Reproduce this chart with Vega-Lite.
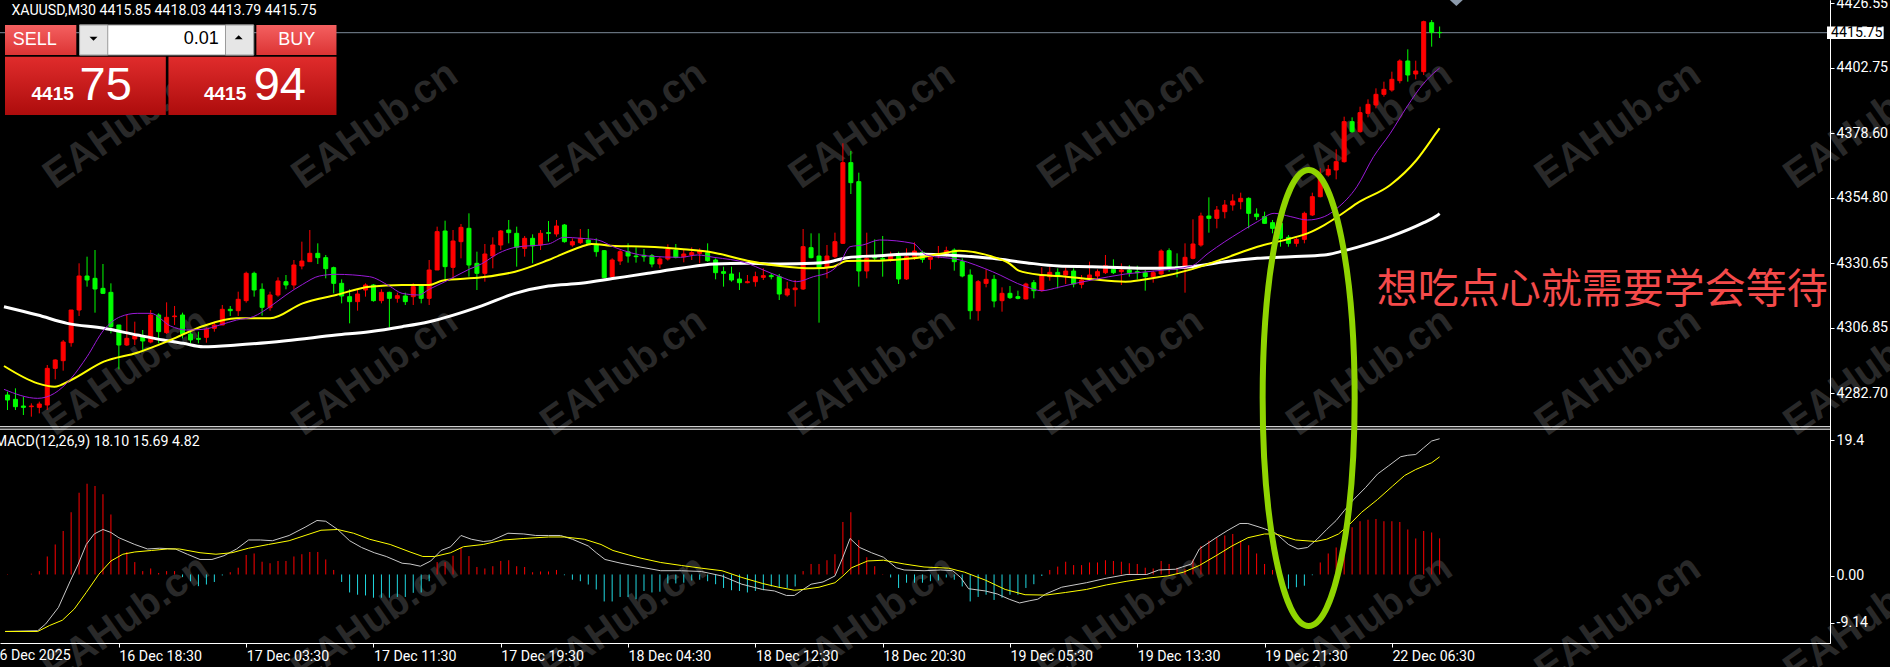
{
"$schema":"https://vega.github.io/schema/vega-lite/v6.json",
"width":1830,"height":643,
"autosize":{"type":"none"},
"padding":{"left":0,"top":0,"right":60,"bottom":24},
"background":"#000000",
"config":{"view":{"stroke":null},"axis":{"grid":false,"labelFont":"Roboto","labelFontSize":14.2,"labelColor":"#ffffff","tickColor":"#ffffff","domainColor":"#ffffff","tickSize":4,"tickWidth":1,"domainWidth":1}},
"datasets":{
"k":[
{"i":0,"o":4282.11,"h":4283.34,"l":4276.57,"c":4280.26,"m":0.05},
{"i":1,"o":4280.51,"h":4284.57,"l":4276.57,"c":4277.80,"m":0},
{"i":2,"o":4278.05,"h":4281.49,"l":4274.73,"c":4277.56,"m":0},
{"i":3,"o":4277.80,"h":4279.03,"l":4274.11,"c":4278.05,"m":0.1},
{"i":4,"o":4277.56,"h":4279.65,"l":4275.34,"c":4278.79,"m":0.45},
{"i":5,"o":4278.42,"h":4293.17,"l":4276.57,"c":4291.94,"m":2.4},
{"i":6,"o":4291.94,"h":4295.26,"l":4287.89,"c":4295.02,"m":4.0},
{"i":7,"o":4294.77,"h":4302.40,"l":4291.08,"c":4301.66,"m":5.8},
{"i":8,"o":4301.41,"h":4313.46,"l":4299.94,"c":4313.46,"m":8.3},
{"i":9,"o":4313.46,"h":4330.68,"l":4311.25,"c":4326.00,"m":10.9},
{"i":10,"o":4326.00,"h":4333.13,"l":4322.07,"c":4324.53,"m":12.1},
{"i":11,"o":4325.14,"h":4335.59,"l":4312.48,"c":4321.21,"m":11.8},
{"i":12,"o":4321.45,"h":4330.43,"l":4319.36,"c":4319.61,"m":10.7},
{"i":13,"o":4319.98,"h":4323.30,"l":4304.85,"c":4307.31,"m":8.0},
{"i":14,"o":4307.93,"h":4307.93,"l":4291.57,"c":4300.55,"m":4.7},
{"i":15,"o":4300.55,"h":4311.62,"l":4300.18,"c":4303.01,"m":3.0},
{"i":16,"o":4302.76,"h":4309.16,"l":4300.55,"c":4303.87,"m":1.65},
{"i":17,"o":4303.62,"h":4306.08,"l":4298.09,"c":4302.03,"m":0.45},
{"i":18,"o":4301.66,"h":4313.46,"l":4301.17,"c":4311.62,"m":0.8},
{"i":19,"o":4311.62,"h":4312.23,"l":4301.17,"c":4305.47,"m":0.2},
{"i":20,"o":4305.10,"h":4316.29,"l":4304.61,"c":4310.76,"m":0.45},
{"i":21,"o":4311.00,"h":4314.94,"l":4307.93,"c":4311.25,"m":0.45},
{"i":22,"o":4311.62,"h":4312.48,"l":4303.01,"c":4304.61,"m":-0.35},
{"i":23,"o":4304.61,"h":4305.72,"l":4301.17,"c":4302.40,"m":-0.9},
{"i":24,"o":4303.01,"h":4305.47,"l":4301.17,"c":4302.64,"m":-1.56},
{"i":25,"o":4303.38,"h":4307.07,"l":4301.41,"c":4306.33,"m":-1.34},
{"i":26,"o":4306.70,"h":4309.16,"l":4305.47,"c":4307.93,"m":-1.0},
{"i":27,"o":4307.93,"h":4315.31,"l":4307.93,"c":4313.71,"m":-0.13},
{"i":28,"o":4313.71,"h":4314.94,"l":4311.25,"c":4313.21,"m":0.3},
{"i":29,"o":4313.21,"h":4320.22,"l":4311.25,"c":4317.40,"m":0.9},
{"i":30,"o":4316.91,"h":4327.60,"l":4316.17,"c":4326.99,"m":2.6},
{"i":31,"o":4326.99,"h":4327.60,"l":4318.38,"c":4320.84,"m":2.8},
{"i":32,"o":4321.09,"h":4323.30,"l":4311.37,"c":4314.45,"m":1.7},
{"i":33,"o":4314.32,"h":4320.22,"l":4313.21,"c":4319.00,"m":1.5},
{"i":34,"o":4319.00,"h":4325.51,"l":4318.38,"c":4324.16,"m":1.8},
{"i":35,"o":4323.91,"h":4326.37,"l":4321.09,"c":4322.68,"m":1.8},
{"i":36,"o":4322.68,"h":4331.90,"l":4321.09,"c":4330.06,"m":2.4},
{"i":37,"o":4329.69,"h":4338.67,"l":4328.46,"c":4331.53,"m":2.7},
{"i":38,"o":4331.29,"h":4342.97,"l":4331.29,"c":4334.37,"m":3.0},
{"i":39,"o":4334.37,"h":4338.05,"l":4330.43,"c":4332.77,"m":3.0},
{"i":40,"o":4332.77,"h":4333.75,"l":4325.14,"c":4328.71,"m":2.0},
{"i":41,"o":4329.08,"h":4329.45,"l":4319.61,"c":4323.30,"m":0.6},
{"i":42,"o":4323.30,"h":4324.77,"l":4315.92,"c":4318.63,"m":-1.0},
{"i":43,"o":4318.38,"h":4321.09,"l":4308.54,"c":4316.54,"m":-2.4},
{"i":44,"o":4316.54,"h":4321.09,"l":4313.21,"c":4319.36,"m":-2.7},
{"i":45,"o":4320.84,"h":4323.30,"l":4318.38,"c":4322.68,"m":-2.8},
{"i":46,"o":4322.68,"h":4323.05,"l":4316.54,"c":4316.91,"m":-3.1},
{"i":47,"o":4316.91,"h":4321.09,"l":4315.92,"c":4319.98,"m":-3.1},
{"i":48,"o":4319.98,"h":4320.22,"l":4307.07,"c":4317.77,"m":-3.1},
{"i":49,"o":4317.77,"h":4319.86,"l":4316.17,"c":4318.75,"m":-3.0},
{"i":50,"o":4318.63,"h":4319.86,"l":4315.31,"c":4316.54,"m":-3.0},
{"i":51,"o":4318.38,"h":4323.30,"l":4315.31,"c":4322.07,"m":-2.45},
{"i":52,"o":4322.31,"h":4323.05,"l":4315.92,"c":4317.77,"m":-2.4},
{"i":53,"o":4317.77,"h":4331.90,"l":4315.31,"c":4328.22,"m":-0.9},
{"i":54,"o":4328.22,"h":4344.20,"l":4328.22,"c":4342.36,"m":1.65},
{"i":55,"o":4342.60,"h":4346.41,"l":4324.53,"c":4329.45,"m":1.65},
{"i":56,"o":4329.20,"h":4342.97,"l":4325.14,"c":4338.91,"m":2.5},
{"i":57,"o":4338.67,"h":4345.18,"l":4332.52,"c":4343.95,"m":3.6},
{"i":58,"o":4343.59,"h":4349.12,"l":4325.76,"c":4330.06,"m":2.45},
{"i":59,"o":4330.68,"h":4334.98,"l":4320.84,"c":4326.99,"m":1.0},
{"i":60,"o":4326.99,"h":4337.81,"l":4323.91,"c":4334.12,"m":0.8},
{"i":61,"o":4333.38,"h":4340.27,"l":4328.83,"c":4337.44,"m":1.1},
{"i":62,"o":4337.44,"h":4342.97,"l":4335.59,"c":4342.60,"m":1.8},
{"i":63,"o":4342.97,"h":4346.66,"l":4338.05,"c":4341.99,"m":1.9},
{"i":64,"o":4341.74,"h":4344.20,"l":4329.45,"c":4336.58,"m":1.1},
{"i":65,"o":4336.21,"h":4340.76,"l":4333.13,"c":4339.90,"m":1.0},
{"i":66,"o":4339.90,"h":4341.37,"l":4330.68,"c":4337.07,"m":0.3},
{"i":67,"o":4337.44,"h":4342.97,"l":4335.59,"c":4341.74,"m":0.4},
{"i":68,"o":4341.99,"h":4346.29,"l":4338.67,"c":4341.74,"m":0.4},
{"i":69,"o":4341.50,"h":4346.66,"l":4340.51,"c":4344.45,"m":0.6},
{"i":70,"o":4344.82,"h":4345.18,"l":4338.30,"c":4338.67,"m":-0.1},
{"i":71,"o":4337.44,"h":4339.90,"l":4336.82,"c":4338.67,"m":-0.7},
{"i":72,"o":4338.30,"h":4343.34,"l":4337.81,"c":4339.90,"m":-0.9},
{"i":73,"o":4339.28,"h":4343.34,"l":4337.81,"c":4338.05,"m":-1.34},
{"i":74,"o":4337.44,"h":4339.90,"l":4333.13,"c":4334.98,"m":-2.0},
{"i":75,"o":4335.35,"h":4335.59,"l":4325.14,"c":4325.39,"m":-3.6},
{"i":76,"o":4325.76,"h":4332.52,"l":4325.14,"c":4331.90,"m":-3.6},
{"i":77,"o":4331.53,"h":4335.84,"l":4330.06,"c":4334.98,"m":-3.0},
{"i":78,"o":4334.98,"h":4338.05,"l":4330.92,"c":4333.38,"m":-3.0},
{"i":79,"o":4333.38,"h":4336.58,"l":4330.92,"c":4333.13,"m":-3.3},
{"i":80,"o":4333.63,"h":4335.96,"l":4331.29,"c":4333.13,"m":-2.2},
{"i":81,"o":4333.50,"h":4334.12,"l":4329.20,"c":4330.43,"m":-2.4},
{"i":82,"o":4330.43,"h":4333.13,"l":4328.83,"c":4332.27,"m":-2.3},
{"i":83,"o":4332.27,"h":4337.68,"l":4331.66,"c":4335.96,"m":-1.2},
{"i":84,"o":4335.59,"h":4337.81,"l":4332.52,"c":4332.89,"m":-1.2},
{"i":85,"o":4333.13,"h":4335.59,"l":4331.04,"c":4334.12,"m":-1.1},
{"i":86,"o":4333.75,"h":4336.58,"l":4331.90,"c":4334.61,"m":-0.8},
{"i":87,"o":4334.37,"h":4336.21,"l":4330.68,"c":4335.22,"m":-0.7},
{"i":88,"o":4334.61,"h":4338.05,"l":4331.29,"c":4331.66,"m":-0.9},
{"i":89,"o":4331.90,"h":4332.52,"l":4324.77,"c":4327.23,"m":-1.3},
{"i":90,"o":4327.60,"h":4329.45,"l":4322.07,"c":4326.99,"m":-1.8},
{"i":91,"o":4326.74,"h":4329.45,"l":4323.91,"c":4324.53,"m":-2.1},
{"i":92,"o":4324.90,"h":4327.36,"l":4320.84,"c":4323.54,"m":-2.2},
{"i":93,"o":4323.54,"h":4326.37,"l":4323.30,"c":4323.91,"m":-2.4},
{"i":94,"o":4323.91,"h":4327.60,"l":4322.07,"c":4325.76,"m":-2.2},
{"i":95,"o":4325.51,"h":4328.83,"l":4324.53,"c":4326.13,"m":-2.1},
{"i":96,"o":4326.13,"h":4326.99,"l":4324.77,"c":4325.76,"m":-1.6},
{"i":97,"o":4325.76,"h":4326.74,"l":4317.15,"c":4319.36,"m":-1.8},
{"i":98,"o":4319.00,"h":4323.91,"l":4318.38,"c":4321.21,"m":-1.8},
{"i":99,"o":4320.96,"h":4324.53,"l":4314.69,"c":4321.58,"m":-1.6},
{"i":100,"o":4321.21,"h":4343.34,"l":4320.84,"c":4336.82,"m":0.45},
{"i":101,"o":4336.45,"h":4341.74,"l":4332.52,"c":4332.77,"m":1.4},
{"i":102,"o":4333.38,"h":4341.74,"l":4308.79,"c":4329.20,"m":1.4},
{"i":103,"o":4329.20,"h":4337.44,"l":4325.14,"c":4333.38,"m":1.9},
{"i":104,"o":4333.13,"h":4341.99,"l":4332.52,"c":4338.67,"m":2.7},
{"i":105,"o":4338.05,"h":4374.94,"l":4337.81,"c":4367.81,"m":7.0},
{"i":106,"o":4367.81,"h":4372.11,"l":4356.25,"c":4360.43,"m":8.3},
{"i":107,"o":4360.80,"h":4364.12,"l":4322.07,"c":4327.85,"m":4.6},
{"i":108,"o":4327.85,"h":4341.99,"l":4325.14,"c":4332.52,"m":2.3},
{"i":109,"o":4333.13,"h":4339.53,"l":4331.66,"c":4332.64,"m":1.1},
{"i":110,"o":4332.52,"h":4340.76,"l":4325.76,"c":4332.15,"m":0.05},
{"i":111,"o":4331.90,"h":4334.98,"l":4331.29,"c":4333.75,"m":-0.4},
{"i":112,"o":4333.38,"h":4334.98,"l":4323.05,"c":4324.90,"m":-1.8},
{"i":113,"o":4324.90,"h":4336.21,"l":4324.53,"c":4333.13,"m":-1.1},
{"i":114,"o":4333.13,"h":4338.42,"l":4331.90,"c":4335.22,"m":-1.1},
{"i":115,"o":4334.73,"h":4335.35,"l":4330.92,"c":4332.15,"m":-1.1},
{"i":116,"o":4332.15,"h":4334.12,"l":4328.46,"c":4332.89,"m":-0.9},
{"i":117,"o":4333.38,"h":4337.07,"l":4332.52,"c":4334.00,"m":-0.8},
{"i":118,"o":4334.12,"h":4336.82,"l":4333.13,"c":4335.35,"m":-0.4},
{"i":119,"o":4335.59,"h":4336.21,"l":4327.97,"c":4331.29,"m":-0.7},
{"i":120,"o":4331.29,"h":4332.52,"l":4325.51,"c":4326.00,"m":-1.6},
{"i":121,"o":4326.37,"h":4328.46,"l":4310.01,"c":4313.21,"m":-3.6},
{"i":122,"o":4313.21,"h":4324.52,"l":4309.52,"c":4323.91,"m":-3.0},
{"i":123,"o":4323.29,"h":4328.46,"l":4321.82,"c":4324.77,"m":-2.7},
{"i":124,"o":4324.77,"h":4326.37,"l":4314.44,"c":4316.78,"m":-3.4},
{"i":125,"o":4316.90,"h":4321.82,"l":4312.84,"c":4319.61,"m":-3.1},
{"i":126,"o":4319.61,"h":4322.31,"l":4317.52,"c":4318.01,"m":-2.7},
{"i":127,"o":4318.38,"h":4320.59,"l":4317.39,"c":4317.76,"m":-2.7},
{"i":128,"o":4317.52,"h":4323.54,"l":4317.39,"c":4323.05,"m":-1.8},
{"i":129,"o":4323.54,"h":4324.52,"l":4317.76,"c":4320.59,"m":-1.3},
{"i":130,"o":4320.59,"h":4329.20,"l":4320.22,"c":4326.37,"m":-0.2},
{"i":131,"o":4325.75,"h":4329.44,"l":4324.28,"c":4327.35,"m":0.6},
{"i":132,"o":4327.35,"h":4328.83,"l":4321.45,"c":4325.75,"m":1.05},
{"i":133,"o":4326.37,"h":4329.20,"l":4323.05,"c":4327.84,"m":1.7},
{"i":134,"o":4327.84,"h":4328.83,"l":4321.82,"c":4323.05,"m":1.25},
{"i":135,"o":4322.92,"h":4326.37,"l":4321.45,"c":4324.52,"m":1.25},
{"i":136,"o":4324.77,"h":4331.29,"l":4324.28,"c":4326.37,"m":1.6},
{"i":137,"o":4326.00,"h":4328.46,"l":4324.77,"c":4327.60,"m":1.6},
{"i":138,"o":4327.23,"h":4333.75,"l":4326.74,"c":4329.81,"m":1.9},
{"i":139,"o":4328.46,"h":4332.15,"l":4326.74,"c":4327.23,"m":1.8},
{"i":140,"o":4327.60,"h":4330.67,"l":4322.68,"c":4328.21,"m":1.7},
{"i":141,"o":4328.21,"h":4330.06,"l":4325.75,"c":4327.23,"m":1.5},
{"i":142,"o":4327.60,"h":4329.81,"l":4324.77,"c":4327.23,"m":1.4},
{"i":143,"o":4327.23,"h":4328.21,"l":4320.59,"c":4325.75,"m":0.9},
{"i":144,"o":4325.75,"h":4327.97,"l":4323.54,"c":4327.23,"m":0.8},
{"i":145,"o":4326.74,"h":4335.84,"l":4326.37,"c":4335.22,"m":1.8},
{"i":146,"o":4335.34,"h":4336.21,"l":4327.60,"c":4329.20,"m":1.4},
{"i":147,"o":4329.44,"h":4334.36,"l":4325.51,"c":4328.83,"m":0.9},
{"i":148,"o":4328.83,"h":4338.05,"l":4319.85,"c":4332.89,"m":0.7},
{"i":149,"o":4332.52,"h":4346.90,"l":4332.15,"c":4337.81,"m":2.0},
{"i":150,"o":4337.43,"h":4349.36,"l":4336.82,"c":4348.13,"m":3.8},
{"i":151,"o":4348.13,"h":4355.02,"l":4341.99,"c":4347.27,"m":4.5},
{"i":152,"o":4347.27,"h":4351.82,"l":4343.58,"c":4350.35,"m":4.9},
{"i":153,"o":4349.73,"h":4354.03,"l":4347.27,"c":4352.19,"m":5.2},
{"i":154,"o":4352.19,"h":4356.13,"l":4350.10,"c":4353.67,"m":5.4},
{"i":155,"o":4353.42,"h":4356.74,"l":4350.59,"c":4354.65,"m":4.5},
{"i":156,"o":4354.65,"h":4355.02,"l":4343.58,"c":4349.12,"m":3.9},
{"i":157,"o":4348.87,"h":4350.96,"l":4346.66,"c":4347.89,"m":2.8},
{"i":158,"o":4347.89,"h":4349.73,"l":4345.18,"c":4345.43,"m":1.4},
{"i":159,"o":4345.68,"h":4346.66,"l":4341.74,"c":4343.58,"m":0.6},
{"i":160,"o":4345.43,"h":4346.41,"l":4336.82,"c":4339.89,"m":-0.9},
{"i":161,"o":4340.26,"h":4341.12,"l":4336.82,"c":4338.05,"m":-1.9},
{"i":162,"o":4338.05,"h":4340.26,"l":4336.82,"c":4339.52,"m":-1.7},
{"i":163,"o":4339.52,"h":4349.73,"l":4338.05,"c":4349.12,"m":-1.5},
{"i":164,"o":4348.50,"h":4356.74,"l":4348.13,"c":4355.26,"m":-0.1},
{"i":165,"o":4355.26,"h":4365.72,"l":4355.02,"c":4362.03,"m":1.6},
{"i":166,"o":4363.26,"h":4366.95,"l":4362.64,"c":4365.35,"m":2.8},
{"i":167,"o":4365.10,"h":4372.72,"l":4361.66,"c":4368.17,"m":3.6},
{"i":168,"o":4368.17,"h":4384.77,"l":4367.81,"c":4382.93,"m":5.4},
{"i":169,"o":4382.93,"h":4384.53,"l":4378.87,"c":4379.24,"m":6.3},
{"i":170,"o":4379.24,"h":4388.46,"l":4378.87,"c":4386.25,"m":7.1},
{"i":171,"o":4386.00,"h":4391.17,"l":4384.53,"c":4389.32,"m":7.3},
{"i":172,"o":4389.08,"h":4395.22,"l":4387.85,"c":4393.01,"m":7.4},
{"i":173,"o":4393.01,"h":4397.68,"l":4392.15,"c":4394.86,"m":7.1},
{"i":174,"o":4394.61,"h":4401.37,"l":4393.99,"c":4398.55,"m":7.1},
{"i":175,"o":4398.05,"h":4405.92,"l":4397.07,"c":4405.31,"m":7.0},
{"i":176,"o":4405.31,"h":4409.61,"l":4397.68,"c":4400.14,"m":6.0},
{"i":177,"o":4400.51,"h":4405.43,"l":4398.55,"c":4401.62,"m":4.8},
{"i":178,"o":4401.37,"h":4420.19,"l":4400.14,"c":4419.82,"m":5.8},
{"i":179,"o":4419.45,"h":4420.43,"l":4410.60,"c":4415.88,"m":5.6},
{"i":180,"o":4415.85,"h":4418.03,"l":4413.79,"c":4415.75,"m":4.82}
],
"ma":[
{"s":"w","i":-0.44,"v":4314.69},{"s":"w","i":3.8,"v":4311.62},{"s":"w","i":7.5,"v":4308.54},{"s":"w","i":12.1,"v":4306.7},{"s":"w","i":16.3,"v":4304.24},{"s":"w","i":19.6,"v":4302.4},{"s":"w","i":22.1,"v":4301.17},{"s":"w","i":24.6,"v":4299.94},{"s":"w","i":28.8,"v":4300.55},{"s":"w","i":35,"v":4302.15},{"s":"w","i":41.3,"v":4304.24},{"s":"w","i":45.5,"v":4305.47},{"s":"w","i":49.6,"v":4307.31},{"s":"w","i":53,"v":4309.16},{"s":"w","i":59.6,"v":4315.0},{"s":"w","i":63.8,"v":4319.61},{"s":"w","i":68,"v":4322.31},{"s":"w","i":72.1,"v":4323.3},{"s":"w","i":76.3,"v":4325.14},{"s":"w","i":80.5,"v":4326.99},{"s":"w","i":84.6,"v":4328.83},{"s":"w","i":88.8,"v":4330.43},{"s":"w","i":93,"v":4330.68},{"s":"w","i":97.1,"v":4330.43},{"s":"w","i":101.3,"v":4330.68},{"s":"w","i":103.4,"v":4331.29},{"s":"w","i":105.5,"v":4332.77},{"s":"w","i":109.6,"v":4333.5},{"s":"w","i":113.8,"v":4334.12},{"s":"w","i":119.6,"v":4333.5},{"s":"w","i":123.8,"v":4332.52},{"s":"w","i":128,"v":4330.92},{"s":"w","i":132.1,"v":4329.69},{"s":"w","i":136.3,"v":4329.44},{"s":"w","i":140.5,"v":4329.07},{"s":"w","i":144.6,"v":4328.83},{"s":"w","i":148.8,"v":4329.44},{"s":"w","i":153,"v":4331.29},{"s":"w","i":157.1,"v":4332.52},{"s":"w","i":161.3,"v":4333.13},{"s":"w","i":165.5,"v":4333.75},{"s":"w","i":167.5,"v":4334.98},{"s":"w","i":169.6,"v":4336.58},{"s":"w","i":173.8,"v":4340.51},{"s":"w","i":178,"v":4345.67},{"s":"w","i":179.6,"v":4348.13},{"s":"w","i":180,"v":4349.0},
{"s":"y","i":-0.44,"v":4292.8},{"s":"y","i":3.8,"v":4286.41},{"s":"y","i":5.9,"v":4285.18},{"s":"y","i":8,"v":4287.64},{"s":"y","i":12.1,"v":4294.4},{"s":"y","i":16.3,"v":4297.72},{"s":"y","i":20.5,"v":4302.4},{"s":"y","i":24.6,"v":4307.56},{"s":"y","i":28.8,"v":4310.39},{"s":"y","i":33,"v":4310.39},{"s":"y","i":37.1,"v":4315.92},{"s":"y","i":41.3,"v":4319.0},{"s":"y","i":45.5,"v":4322.07},{"s":"y","i":49.6,"v":4322.68},{"s":"y","i":53,"v":4322.68},{"s":"y","i":54.6,"v":4324.28},{"s":"y","i":59.6,"v":4325.5},{"s":"y","i":63.8,"v":4327.6},{"s":"y","i":68,"v":4331.9},{"s":"y","i":72.1,"v":4336.82},{"s":"y","i":73.4,"v":4337.81},{"s":"y","i":76.3,"v":4337.07},{"s":"y","i":80.5,"v":4336.82},{"s":"y","i":84.6,"v":4335.96},{"s":"y","i":88.8,"v":4334.61},{"s":"y","i":93,"v":4331.66},{"s":"y","i":97.1,"v":4329.69},{"s":"y","i":101.3,"v":4328.83},{"s":"y","i":103.8,"v":4329.45},{"s":"y","i":105.5,"v":4331.53},{"s":"y","i":109.6,"v":4331.66},{"s":"y","i":113.8,"v":4332.52},{"s":"y","i":118,"v":4334.61},{"s":"y","i":119.6,"v":4335.35},{"s":"y","i":123.8,"v":4333.13},{"s":"y","i":125.9,"v":4330.67},{"s":"y","i":127.1,"v":4327.97},{"s":"y","i":130,"v":4326.37},{"s":"y","i":132.1,"v":4326.0},{"s":"y","i":136.3,"v":4324.77},{"s":"y","i":140.5,"v":4323.91},{"s":"y","i":142.5,"v":4324.52},{"s":"y","i":144.6,"v":4325.51},{"s":"y","i":148.8,"v":4328.46},{"s":"y","i":153,"v":4332.52},{"s":"y","i":157.1,"v":4336.82},{"s":"y","i":161.3,"v":4339.89},{"s":"y","i":163.4,"v":4341.74},{"s":"y","i":165.5,"v":4344.81},{"s":"y","i":167.5,"v":4348.5},{"s":"y","i":169.6,"v":4352.81},{"s":"y","i":173.8,"v":4359.57},{"s":"y","i":177.1,"v":4368.79},{"s":"y","i":179.6,"v":4378.87},{"s":"y","i":180,"v":4380.5},
{"s":"p","i":-0.44,"v":4284.2},{"s":"p","i":3.8,"v":4280.88},{"s":"p","i":5.9,"v":4282.72},{"s":"p","i":8,"v":4288.25},{"s":"p","i":10,"v":4296.25},{"s":"p","i":12.1,"v":4306.08},{"s":"p","i":14.2,"v":4311.0},{"s":"p","i":16.3,"v":4312.23},{"s":"p","i":18,"v":4312.23},{"s":"p","i":20.5,"v":4307.56},{"s":"p","i":22.5,"v":4306.08},{"s":"p","i":24.6,"v":4306.33},{"s":"p","i":26.7,"v":4307.93},{"s":"p","i":28.8,"v":4309.77},{"s":"p","i":30.9,"v":4311.0},{"s":"p","i":33,"v":4314.69},{"s":"p","i":35,"v":4319.0},{"s":"p","i":37.1,"v":4322.93},{"s":"p","i":39.2,"v":4326.0},{"s":"p","i":41.3,"v":4326.62},{"s":"p","i":45.5,"v":4325.76},{"s":"p","i":48,"v":4322.31},{"s":"p","i":49.6,"v":4319.61},{"s":"p","i":51.7,"v":4319.0},{"s":"p","i":53,"v":4321.09},{"s":"p","i":55,"v":4323.91},{"s":"p","i":58,"v":4328.46},{"s":"p","i":59.6,"v":4330.5},{"s":"p","i":61.7,"v":4334.37},{"s":"p","i":63.8,"v":4336.58},{"s":"p","i":68,"v":4337.81},{"s":"p","i":70,"v":4340.27},{"s":"p","i":72.1,"v":4339.9},{"s":"p","i":74.2,"v":4339.28},{"s":"p","i":76.3,"v":4336.58},{"s":"p","i":80.5,"v":4333.38},{"s":"p","i":84.6,"v":4332.89},{"s":"p","i":86.7,"v":4333.75},{"s":"p","i":88.8,"v":4332.89},{"s":"p","i":93,"v":4330.68},{"s":"p","i":95,"v":4328.22},{"s":"p","i":97.1,"v":4325.76},{"s":"p","i":99.2,"v":4323.91},{"s":"p","i":101.3,"v":4325.76},{"s":"p","i":103.4,"v":4327.6},{"s":"p","i":104.6,"v":4330.68},{"s":"p","i":105.9,"v":4336.82},{"s":"p","i":107.5,"v":4337.44},{"s":"p","i":109.6,"v":4339.28},{"s":"p","i":113.8,"v":4338.05},{"s":"p","i":115.5,"v":4333.75},{"s":"p","i":119.6,"v":4332.0},{"s":"p","i":123.8,"v":4327.6},{"s":"p","i":128,"v":4322.06},{"s":"p","i":130,"v":4320.59},{"s":"p","i":132.1,"v":4321.82},{"s":"p","i":134.2,"v":4323.29},{"s":"p","i":136.3,"v":4324.52},{"s":"p","i":140.5,"v":4326.74},{"s":"p","i":144.6,"v":4327.97},{"s":"p","i":148.8,"v":4329.69},{"s":"p","i":150.9,"v":4334.36},{"s":"p","i":153,"v":4338.66},{"s":"p","i":155,"v":4342.35},{"s":"p","i":157.1,"v":4346.04},{"s":"p","i":159.2,"v":4349.12},{"s":"p","i":161.3,"v":4347.89},{"s":"p","i":163.4,"v":4346.66},{"s":"p","i":165.5,"v":4347.89},{"s":"p","i":167.1,"v":4350.96},{"s":"p","i":169.6,"v":4358.95},{"s":"p","i":171.7,"v":4370.02},{"s":"p","i":173.8,"v":4378.63},{"s":"p","i":175.9,"v":4388.46},{"s":"p","i":178,"v":4397.07},{"s":"p","i":179.6,"v":4401.74},{"s":"p","i":180,"v":4402.7}
],
"md":[
{"s":"m","i":-0.3,"v":-7.6},{"s":"m","i":3.8,"v":-7.5},{"s":"m","i":4.8,"v":-6.6},{"s":"m","i":6.4,"v":-4.4},{"s":"m","i":7.9,"v":-0.85},{"s":"m","i":8.9,"v":1.4},{"s":"m","i":9.9,"v":4.0},{"s":"m","i":10.9,"v":5.4},{"s":"m","i":12,"v":6.0},{"s":"m","i":13,"v":5.6},{"s":"m","i":14,"v":4.9},{"s":"m","i":16,"v":4.0},{"s":"m","i":17.6,"v":3.4},{"s":"m","i":19.1,"v":3.5},{"s":"m","i":21.1,"v":3.4},{"s":"m","i":22.6,"v":2.7},{"s":"m","i":24.2,"v":2.0},{"s":"m","i":25.7,"v":2.0},{"s":"m","i":27.2,"v":2.5},{"s":"m","i":28.8,"v":3.4},{"s":"m","i":30.3,"v":4.6},{"s":"m","i":31.8,"v":4.6},{"s":"m","i":33.3,"v":4.5},{"s":"m","i":35.4,"v":5.2},{"s":"m","i":37.4,"v":6.3},{"s":"m","i":38.9,"v":7.2},{"s":"m","i":40,"v":7.1},{"s":"m","i":41.5,"v":6.0},{"s":"m","i":43,"v":4.5},{"s":"m","i":44.5,"v":3.6},{"s":"m","i":46.1,"v":2.9},{"s":"m","i":47.6,"v":2.4},{"s":"m","i":49.6,"v":1.5},{"s":"m","i":50.6,"v":1.4},{"s":"m","i":51.9,"v":1.1},{"s":"m","i":53.2,"v":1.8},{"s":"m","i":54.5,"v":3.2},{"s":"m","i":55.7,"v":3.7},{"s":"m","i":57,"v":5.2},{"s":"m","i":58.3,"v":4.7},{"s":"m","i":59.8,"v":4.4},{"s":"m","i":60.8,"v":4.5},{"s":"m","i":62.9,"v":5.5},{"s":"m","i":64.9,"v":5.4},{"s":"m","i":66.4,"v":5.2},{"s":"m","i":68,"v":5.2},{"s":"m","i":69.5,"v":5.2},{"s":"m","i":71,"v":4.7},{"s":"m","i":73,"v":3.8},{"s":"m","i":74,"v":2.9},{"s":"m","i":75.1,"v":2.0},{"s":"m","i":77.1,"v":1.5},{"s":"m","i":79.5,"v":1.0},{"s":"m","i":82.1,"v":0.5},{"s":"m","i":84.7,"v":0.5},{"s":"m","i":87.2,"v":0.4},{"s":"m","i":89.8,"v":-0.2},{"s":"m","i":92.3,"v":-1.3},{"s":"m","i":94.9,"v":-2.0},{"s":"m","i":96.4,"v":-2.2},{"s":"m","i":97.9,"v":-2.8},{"s":"m","i":98.9,"v":-2.8},{"s":"m","i":100,"v":-2.0},{"s":"m","i":101,"v":-1.3},{"s":"m","i":102.5,"v":-1.0},{"s":"m","i":104,"v":-0.2},{"s":"m","i":105,"v":2.3},{"s":"m","i":105.9,"v":4.8},{"s":"m","i":107.1,"v":3.6},{"s":"m","i":108.6,"v":2.9},{"s":"m","i":110.1,"v":2.3},{"s":"m","i":111.7,"v":0.9},{"s":"m","i":112.7,"v":0.6},{"s":"m","i":115.2,"v":0.5},{"s":"m","i":117.3,"v":0.6},{"s":"m","i":118.8,"v":0.5},{"s":"m","i":119.8,"v":-0.4},{"s":"m","i":120.8,"v":-1.9},{"s":"m","i":122.9,"v":-2.2},{"s":"m","i":124.4,"v":-2.6},{"s":"m","i":125.9,"v":-3.3},{"s":"m","i":127.2,"v":-3.8},{"s":"m","i":128.5,"v":-3.5},{"s":"m","i":129.5,"v":-3.3},{"s":"m","i":130.5,"v":-2.6},{"s":"m","i":132.5,"v":-1.7},{"s":"m","i":135.6,"v":-1.1},{"s":"m","i":138.1,"v":-0.5},{"s":"m","i":140.7,"v":0},{"s":"m","i":143.2,"v":0},{"s":"m","i":144.7,"v":0.6},{"s":"m","i":146.8,"v":0.7},{"s":"m","i":148.8,"v":1.4},{"s":"m","i":149.8,"v":3.4},{"s":"m","i":151.9,"v":4.9},{"s":"m","i":153.4,"v":5.9},{"s":"m","i":154.9,"v":6.8},{"s":"m","i":155.9,"v":6.8},{"s":"m","i":158,"v":6.1},{"s":"m","i":159.4,"v":5.5},{"s":"m","i":161,"v":4.0},{"s":"m","i":162.2,"v":3.4},{"s":"m","i":163.4,"v":3.6},{"s":"m","i":164.6,"v":4.7},{"s":"m","i":165.8,"v":6.0},{"s":"m","i":167,"v":7.2},{"s":"m","i":168,"v":8.5},{"s":"m","i":169.2,"v":10.0},{"s":"m","i":170.7,"v":11.6},{"s":"m","i":172.2,"v":13.4},{"s":"m","i":173.6,"v":14.5},{"s":"m","i":175.1,"v":15.7},{"s":"m","i":176,"v":15.9},{"s":"m","i":177,"v":16.0},{"s":"m","i":178,"v":16.9},{"s":"m","i":179,"v":17.8},{"s":"m","i":180,"v":18.1},
{"s":"g","i":-0.3,"v":-7.6},{"s":"g","i":3.8,"v":-7.6},{"s":"g","i":5.3,"v":-6.8},{"s":"g","i":6.9,"v":-6.1},{"s":"g","i":8.4,"v":-4.6},{"s":"g","i":9.9,"v":-2.4},{"s":"g","i":11.5,"v":0.05},{"s":"g","i":13,"v":1.8},{"s":"g","i":14.5,"v":2.7},{"s":"g","i":16,"v":3.0},{"s":"g","i":18.1,"v":3.2},{"s":"g","i":20.1,"v":3.4},{"s":"g","i":21.6,"v":3.4},{"s":"g","i":24.2,"v":2.9},{"s":"g","i":26.2,"v":2.7},{"s":"g","i":28.2,"v":2.9},{"s":"g","i":30.3,"v":3.5},{"s":"g","i":32.8,"v":4.0},{"s":"g","i":35.4,"v":4.5},{"s":"g","i":37.4,"v":5.2},{"s":"g","i":39.4,"v":5.9},{"s":"g","i":41.5,"v":6.0},{"s":"g","i":43.5,"v":5.5},{"s":"g","i":45.5,"v":4.7},{"s":"g","i":48.1,"v":4.0},{"s":"g","i":50.6,"v":3.0},{"s":"g","i":52.2,"v":2.4},{"s":"g","i":53.7,"v":2.4},{"s":"g","i":55.7,"v":2.9},{"s":"g","i":57.3,"v":3.7},{"s":"g","i":59.8,"v":4.0},{"s":"g","i":62.3,"v":4.6},{"s":"g","i":64.9,"v":4.8},{"s":"g","i":68,"v":5.0},{"s":"g","i":70,"v":5.0},{"s":"g","i":72.5,"v":4.7},{"s":"g","i":74.6,"v":4.0},{"s":"g","i":76.1,"v":3.2},{"s":"g","i":78.1,"v":2.6},{"s":"g","i":79.5,"v":2.2},{"s":"g","i":82.1,"v":1.6},{"s":"g","i":84.7,"v":1.2},{"s":"g","i":87.2,"v":0.84},{"s":"g","i":89.8,"v":0.5},{"s":"g","i":92.3,"v":-0.4},{"s":"g","i":94.9,"v":-1.2},{"s":"g","i":96.9,"v":-1.7},{"s":"g","i":98.9,"v":-2.1},{"s":"g","i":100,"v":-2.0},{"s":"g","i":102,"v":-1.7},{"s":"g","i":104,"v":-1.1},{"s":"g","i":105,"v":-0.2},{"s":"g","i":106.1,"v":0.9},{"s":"g","i":108.1,"v":1.8},{"s":"g","i":110.1,"v":1.9},{"s":"g","i":112.7,"v":1.4},{"s":"g","i":115.2,"v":1.0},{"s":"g","i":118.3,"v":0.84},{"s":"g","i":120.3,"v":0.3},{"s":"g","i":122.9,"v":-0.75},{"s":"g","i":125.4,"v":-2.0},{"s":"g","i":127.9,"v":-2.7},{"s":"g","i":130.5,"v":-2.75},{"s":"g","i":133,"v":-2.4},{"s":"g","i":135.6,"v":-2.0},{"s":"g","i":138.1,"v":-1.4},{"s":"g","i":140.7,"v":-0.9},{"s":"g","i":143.2,"v":-0.5},{"s":"g","i":145.8,"v":-0.2},{"s":"g","i":147.8,"v":0.3},{"s":"g","i":149.8,"v":1.2},{"s":"g","i":151.9,"v":2.5},{"s":"g","i":153.9,"v":3.8},{"s":"g","i":155.9,"v":4.9},{"s":"g","i":158,"v":5.4},{"s":"g","i":159.4,"v":5.4},{"s":"g","i":161.9,"v":4.6},{"s":"g","i":164.4,"v":4.4},{"s":"g","i":165.8,"v":4.7},{"s":"g","i":167.3,"v":5.4},{"s":"g","i":168.7,"v":6.7},{"s":"g","i":170.2,"v":8.3},{"s":"g","i":172.2,"v":10.0},{"s":"g","i":174.1,"v":11.8},{"s":"g","i":175.6,"v":13.2},{"s":"g","i":177,"v":14.0},{"s":"g","i":179,"v":14.9},{"s":"g","i":180,"v":15.69}
],
"wm":[
{"i":14.94,"p":4381.7},{"i":46.19,"p":4381.7},{"i":77.44,"p":4381.7},{"i":108.69,"p":4381.7},{"i":139.94,"p":4381.7},{"i":171.19,"p":4381.7},{"i":202.44,"p":4381.7},{"i":233.69,"p":4381.7},
{"i":14.94,"p":4290.59},{"i":46.19,"p":4290.59},{"i":77.44,"p":4290.59},{"i":108.69,"p":4290.59},{"i":139.94,"p":4290.59},{"i":171.19,"p":4290.59},{"i":202.44,"p":4290.59},{"i":233.69,"p":4290.59},
{"i":14.94,"p":4199.48},{"i":46.19,"p":4199.48},{"i":77.44,"p":4199.48},{"i":108.69,"p":4199.48},{"i":139.94,"p":4199.48},{"i":171.19,"p":4199.48},{"i":202.44,"p":4199.48},{"i":233.69,"p":4199.48}
]
},
"layer":[
{"layer":[
{"data":{"name":"wm"},"mark":{"type":"text","font":"Liberation Sans","fontWeight":"bold","fontSize":40,"angle":325,"align":"center","baseline":"middle","color":"#292929"},
 "encoding":{"x":{"field":"i","type":"quantitative","scale":{"domain":[-0.3125,228.4375],"nice":false,"zero":false}},"y":{"field":"p","type":"quantitative","scale":{"domain":[4190.63,4427.81],"nice":false,"zero":false}},"text":{"value":"EAHub.cn"}}},
{"data":{"values":[{}]},"mark":{"type":"rule","color":"#7d8a99","strokeWidth":1},
 "encoding":{"y":{"datum":4415.75,"type":"quantitative","scale":{"domain":[4190.63,4427.81],"nice":false,"zero":false}}}},
{"data":{"values":[{}]},"mark":{"type":"rule","color":"#ffffff","strokeWidth":1},
 "encoding":{"y":{"datum":4270.42,"type":"quantitative","scale":{"domain":[4190.63,4427.81],"nice":false,"zero":false}}}},
{"data":{"values":[{}]},"mark":{"type":"rule","color":"#ffffff","strokeWidth":1},
 "encoding":{"y":{"datum":4269.5,"type":"quantitative","scale":{"domain":[4190.63,4427.81],"nice":false,"zero":false}}}},
{"data":{"name":"k"},"mark":{"type":"rule","strokeWidth":1},
 "encoding":{
  "x":{"field":"i","type":"quantitative","scale":{"domain":[-0.3125,228.4375],"nice":false,"zero":false},
   "axis":{"orient":"bottom","title":null,"values":[14,30,46,62,78,94,110,126,142,158,174],"labelExpr":"['16 Dec 18:30','17 Dec 03:30','17 Dec 11:30','17 Dec 19:30','18 Dec 04:30','18 Dec 12:30','18 Dec 20:30','19 Dec 05:30','19 Dec 13:30','19 Dec 21:30','22 Dec 06:30'][round((datum.value - 14) / 16)]","labelAlign":"left","labelBaseline":"top","labelPadding":2,"labelFlush":false,"labelOverlap":false,"labelBound":false,"zindex":1}},
  "y":{"field":"l","type":"quantitative","scale":{"domain":[4190.63,4427.81],"nice":false,"zero":false},
   "axis":{"orient":"right","title":null,"values":[4426.55,4402.75,4378.6,4354.8,4330.65,4306.85,4282.7],"format":".2f","labelPadding":2,"labelFlush":false,"labelOverlap":false,"labelBound":false,"zindex":1}},
  "y2":{"field":"h"},
  "color":{"condition":{"test":"datum.c > datum.o","value":"#ff0000"},"value":"#00ff00"}}},
{"data":{"name":"k"},"mark":{"type":"bar","size":4,"strokeWidth":1},
 "encoding":{
  "x":{"field":"i","type":"quantitative","scale":{"domain":[-0.3125,228.4375],"nice":false,"zero":false}},
  "y":{"field":"o","type":"quantitative","scale":{"domain":[4190.63,4427.81],"nice":false,"zero":false}},
  "y2":{"field":"c"},
  "color":{"condition":{"test":"datum.c > datum.o","value":"#ff0000"},"value":"#00ff00"},
  "stroke":{"condition":{"test":"datum.c > datum.o","value":"#ff0000"},"value":"#00ff00"}}},
{"data":{"name":"ma"},"transform":[{"filter":"datum.s == 'w'"}],"mark":{"type":"line","color":"#ffffff","strokeWidth":3,"interpolate":"monotone"},
 "encoding":{"x":{"field":"i","type":"quantitative","scale":{"domain":[-0.3125,228.4375],"nice":false,"zero":false}},"y":{"field":"v","type":"quantitative","scale":{"domain":[4190.63,4427.81],"nice":false,"zero":false}}}},
{"data":{"name":"ma"},"transform":[{"filter":"datum.s == 'y'"}],"mark":{"type":"line","color":"#ffff00","strokeWidth":2,"interpolate":"monotone"},
 "encoding":{"x":{"field":"i","type":"quantitative","scale":{"domain":[-0.3125,228.4375],"nice":false,"zero":false}},"y":{"field":"v","type":"quantitative","scale":{"domain":[4190.63,4427.81],"nice":false,"zero":false}}}},
{"data":{"name":"ma"},"transform":[{"filter":"datum.s == 'p'"}],"mark":{"type":"line","color":"#9a1ad8","strokeWidth":1,"interpolate":"monotone"},
 "encoding":{"x":{"field":"i","type":"quantitative","scale":{"domain":[-0.3125,228.4375],"nice":false,"zero":false}},"y":{"field":"v","type":"quantitative","scale":{"domain":[4190.63,4427.81],"nice":false,"zero":false}}}}
]},
{"layer":[
{"data":{"name":"k"},"mark":{"type":"rule","strokeWidth":1},
 "encoding":{
  "x":{"field":"i","type":"quantitative","scale":{"domain":[-0.3125,228.4375],"nice":false,"zero":false}},
  "y":{"field":"m","type":"quantitative","scale":{"domain":[-9.14,76.62],"nice":false,"zero":false},
   "axis":{"orient":"right","title":null,"values":[17.93,-0.2,-6.47],"labelExpr":"datum.value > 10 ? '19.4' : datum.value < -3 ? '-9.14' : '0.00'","labelPadding":2,"labelFlush":false,"labelOverlap":false,"labelBound":false,"zindex":1}},
  "y2":{"datum":0},
  "color":{"condition":{"test":"datum.m > 0","value":"#ff0000"},"value":"#20d8e0"}}},
{"data":{"name":"md"},"transform":[{"filter":"datum.s == 'm'"}],"mark":{"type":"line","color":"#c8c8c8","strokeWidth":1},
 "encoding":{"x":{"field":"i","type":"quantitative","scale":{"domain":[-0.3125,228.4375],"nice":false,"zero":false}},"y":{"field":"v","type":"quantitative","scale":{"domain":[-9.14,76.62],"nice":false,"zero":false}}}},
{"data":{"name":"md"},"transform":[{"filter":"datum.s == 'g'"}],"mark":{"type":"line","color":"#ffff00","strokeWidth":1},
 "encoding":{"x":{"field":"i","type":"quantitative","scale":{"domain":[-0.3125,228.4375],"nice":false,"zero":false}},"y":{"field":"v","type":"quantitative","scale":{"domain":[-9.14,76.62],"nice":false,"zero":false}}}},
{"data":{"values":[{}]},"mark":{"type":"text","text":"MACD(12,26,9) 18.10 15.69 4.82","font":"Roboto","fontSize":14.2,"align":"left","baseline":"middle","color":"#ffffff"},
 "encoding":{"x":{"datum":-1.6125,"type":"quantitative","scale":{"domain":[-0.3125,228.4375],"nice":false,"zero":false}},"y":{"datum":17.71,"type":"quantitative","scale":{"domain":[-9.14,76.62],"nice":false,"zero":false}}}},
{"data":{"values":[{}]},"mark":{"type":"text","text":"16 Dec 2025","font":"Roboto","fontSize":14.2,"align":"left","baseline":"top","color":"#ffffff"},
 "encoding":{"x":{"datum":-2,"type":"quantitative","scale":{"domain":[-0.3125,228.4375],"nice":false,"zero":false}},"y":{"datum":-9.94,"type":"quantitative","scale":{"domain":[-9.14,76.62],"nice":false,"zero":false}}}}
]},
{"layer":[
{"data":{"values":[{}]},"mark":{"type":"rect","fill":{"gradient":"linear","x1":0,"y1":0,"x2":0,"y2":1,"stops":[{"offset":0,"color":"#f46060"},{"offset":1,"color":"#dc3434"}]}},
 "encoding":{"x":{"datum":-0.3125,"type":"quantitative","scale":{"domain":[-0.3125,228.4375],"nice":false,"zero":false}},"x2":{"datum":8.65},"y":{"datum":4418.59,"type":"quantitative","scale":{"domain":[4190.63,4427.81],"nice":false,"zero":false},"axis":null},"y2":{"datum":4407.52}}},
{"data":{"values":[{}]},"mark":{"type":"rect","fill":{"gradient":"linear","x1":0,"y1":0,"x2":0,"y2":1,"stops":[{"offset":0,"color":"#f46060"},{"offset":1,"color":"#dc3434"}]}},
 "encoding":{"x":{"datum":31.28,"type":"quantitative","scale":{"domain":[-0.3125,228.4375],"nice":false,"zero":false}},"x2":{"datum":41.35},"y":{"datum":4418.59,"type":"quantitative","scale":{"domain":[4190.63,4427.81],"nice":false,"zero":false},"axis":null},"y2":{"datum":4407.52}}},
{"data":{"values":[{}]},"mark":{"type":"rect","fill":"#ffffff","stroke":"#9a9a9a","strokeWidth":1},
 "encoding":{"x":{"datum":9.06,"type":"quantitative","scale":{"domain":[-0.3125,228.4375],"nice":false,"zero":false}},"x2":{"datum":30.94},"y":{"datum":4418.59,"type":"quantitative","scale":{"domain":[4190.63,4427.81],"nice":false,"zero":false},"axis":null},"y2":{"datum":4407.52}}},
{"data":{"values":[{}]},"mark":{"type":"rect","fill":"#e6e6e6","stroke":"#9a9a9a","strokeWidth":1},
 "encoding":{"x":{"datum":9.06,"type":"quantitative","scale":{"domain":[-0.3125,228.4375],"nice":false,"zero":false}},"x2":{"datum":12.6},"y":{"datum":4418.59,"type":"quantitative","scale":{"domain":[4190.63,4427.81],"nice":false,"zero":false},"axis":null},"y2":{"datum":4407.52}}},
{"data":{"values":[{}]},"mark":{"type":"rect","fill":"#e6e6e6","stroke":"#9a9a9a","strokeWidth":1},
 "encoding":{"x":{"datum":27.4,"type":"quantitative","scale":{"domain":[-0.3125,228.4375],"nice":false,"zero":false}},"x2":{"datum":30.94},"y":{"datum":4418.59,"type":"quantitative","scale":{"domain":[4190.63,4427.81],"nice":false,"zero":false},"axis":null},"y2":{"datum":4407.52}}},
{"data":{"values":[{}]},"mark":{"type":"rect","fill":{"gradient":"linear","x1":0,"y1":0,"x2":0,"y2":1,"stops":[{"offset":0,"color":"#e02c2c"},{"offset":1,"color":"#ad0c0c"}]}},
 "encoding":{"x":{"datum":-0.3125,"type":"quantitative","scale":{"domain":[-0.3125,228.4375],"nice":false,"zero":false}},"x2":{"datum":19.9},"y":{"datum":4406.9,"type":"quantitative","scale":{"domain":[4190.63,4427.81],"nice":false,"zero":false},"axis":null},"y2":{"datum":4385.39}}},
{"data":{"values":[{}]},"mark":{"type":"rect","fill":{"gradient":"linear","x1":0,"y1":0,"x2":0,"y2":1,"stops":[{"offset":0,"color":"#e02c2c"},{"offset":1,"color":"#ad0c0c"}]}},
 "encoding":{"x":{"datum":20.23,"type":"quantitative","scale":{"domain":[-0.3125,228.4375],"nice":false,"zero":false}},"x2":{"datum":41.35},"y":{"datum":4406.9,"type":"quantitative","scale":{"domain":[4190.63,4427.81],"nice":false,"zero":false},"axis":null},"y2":{"datum":4385.39}}},
{"data":{"values":[{}]},"mark":{"type":"text","text":"SELL","font":"Liberation Sans","fontSize":18,"align":"center","baseline":"middle","color":"#ffffff"},
 "encoding":{"x":{"datum":3.44,"type":"quantitative","scale":{"domain":[-0.3125,228.4375],"nice":false,"zero":false}},"y":{"datum":4413.06,"type":"quantitative","scale":{"domain":[4190.63,4427.81],"nice":false,"zero":false},"axis":null}}},
{"data":{"values":[{}]},"mark":{"type":"text","text":"BUY","font":"Liberation Sans","fontSize":18,"align":"center","baseline":"middle","color":"#ffffff"},
 "encoding":{"x":{"datum":36.35,"type":"quantitative","scale":{"domain":[-0.3125,228.4375],"nice":false,"zero":false}},"y":{"datum":4413.06,"type":"quantitative","scale":{"domain":[4190.63,4427.81],"nice":false,"zero":false},"axis":null}}},
{"data":{"values":[{}]},"mark":{"type":"text","text":"0.01","font":"Liberation Sans","fontSize":18,"align":"right","baseline":"middle","color":"#000000"},
 "encoding":{"x":{"datum":26.56,"type":"quantitative","scale":{"domain":[-0.3125,228.4375],"nice":false,"zero":false}},"y":{"datum":4413.31,"type":"quantitative","scale":{"domain":[4190.63,4427.81],"nice":false,"zero":false},"axis":null}}},
{"data":{"values":[{}]},"mark":{"type":"point","shape":"M-1,-0.5L1,-0.5L0,0.5Z","size":64,"filled":true,"color":"#000000","opacity":1},
 "encoding":{"x":{"datum":10.81,"type":"quantitative","scale":{"domain":[-0.3125,228.4375],"nice":false,"zero":false}},"y":{"datum":4413.54,"type":"quantitative","scale":{"domain":[4190.63,4427.81],"nice":false,"zero":false},"axis":null}}},
{"data":{"values":[{}]},"mark":{"type":"point","shape":"M-1,0.5L1,0.5L0,-0.5Z","size":64,"filled":true,"color":"#000000","opacity":1},
 "encoding":{"x":{"datum":29.06,"type":"quantitative","scale":{"domain":[-0.3125,228.4375],"nice":false,"zero":false}},"y":{"datum":4414.05,"type":"quantitative","scale":{"domain":[4190.63,4427.81],"nice":false,"zero":false},"axis":null}}},
{"data":{"values":[{}]},"mark":{"type":"text","text":"4415","font":"Liberation Sans","fontWeight":"bold","fontSize":19,"align":"left","baseline":"alphabetic","color":"#ffffff"},
 "encoding":{"x":{"datum":3.02,"type":"quantitative","scale":{"domain":[-0.3125,228.4375],"nice":false,"zero":false}},"y":{"datum":4390.92,"type":"quantitative","scale":{"domain":[4190.63,4427.81],"nice":false,"zero":false},"axis":null}}},
{"data":{"values":[{}]},"mark":{"type":"text","text":"75","font":"Liberation Sans","fontSize":47,"align":"left","baseline":"alphabetic","color":"#ffffff"},
 "encoding":{"x":{"datum":9.06,"type":"quantitative","scale":{"domain":[-0.3125,228.4375],"nice":false,"zero":false}},"y":{"datum":4390.92,"type":"quantitative","scale":{"domain":[4190.63,4427.81],"nice":false,"zero":false},"axis":null}}},
{"data":{"values":[{}]},"mark":{"type":"text","text":"4415","font":"Liberation Sans","fontWeight":"bold","fontSize":19,"align":"left","baseline":"alphabetic","color":"#ffffff"},
 "encoding":{"x":{"datum":24.69,"type":"quantitative","scale":{"domain":[-0.3125,228.4375],"nice":false,"zero":false}},"y":{"datum":4390.92,"type":"quantitative","scale":{"domain":[4190.63,4427.81],"nice":false,"zero":false},"axis":null}}},
{"data":{"values":[{}]},"mark":{"type":"text","text":"94","font":"Liberation Sans","fontSize":47,"align":"left","baseline":"alphabetic","color":"#ffffff"},
 "encoding":{"x":{"datum":30.94,"type":"quantitative","scale":{"domain":[-0.3125,228.4375],"nice":false,"zero":false}},"y":{"datum":4390.92,"type":"quantitative","scale":{"domain":[4190.63,4427.81],"nice":false,"zero":false},"axis":null}}},
{"data":{"values":[{}]},"mark":{"type":"text","text":"XAUUSD,M30  4415.85 4418.03 4413.79 4415.75","font":"Roboto","fontSize":14.2,"align":"left","baseline":"middle","color":"#ffffff"},
 "encoding":{"x":{"datum":0.49,"type":"quantitative","scale":{"domain":[-0.3125,228.4375],"nice":false,"zero":false}},"y":{"datum":4423.83,"type":"quantitative","scale":{"domain":[4190.63,4427.81],"nice":false,"zero":false},"axis":null}}},
{"data":{"values":[{}]},"mark":{"type":"rect","fill":"#ffffff"},
 "encoding":{"x":{"datum":228.69,"type":"quantitative","scale":{"domain":[-0.3125,228.4375],"nice":false,"zero":false}},"x2":{"datum":235.81},"y":{"datum":4418.07,"type":"quantitative","scale":{"domain":[4190.63,4427.81],"nice":false,"zero":false},"axis":null},"y2":{"datum":4413.39}}},
{"data":{"values":[{}]},"mark":{"type":"text","text":"4415.75","font":"Roboto","fontSize":14.2,"align":"left","baseline":"middle","color":"#000000"},
 "encoding":{"x":{"datum":229.19,"type":"quantitative","scale":{"domain":[-0.3125,228.4375],"nice":false,"zero":false}},"y":{"datum":4415.75,"type":"quantitative","scale":{"domain":[4190.63,4427.81],"nice":false,"zero":false},"axis":null}}},
{"data":{"values":[{}]},"mark":{"type":"point","shape":"M-1,-0.46L1,-0.46L0,0.46Z","size":169,"filled":true,"color":"#8c9aab","opacity":1},
 "encoding":{"x":{"datum":182.1,"type":"quantitative","scale":{"domain":[-0.3125,228.4375],"nice":false,"zero":false}},"y":{"datum":4426.7,"type":"quantitative","scale":{"domain":[4190.63,4427.81],"nice":false,"zero":false},"axis":null}}},
{"data":{"values":[{}]},"mark":{"type":"text","text":"想吃点心就需要学会等待","font":"Noto Sans CJK SC","fontSize":41,"align":"left","baseline":"middle","color":"#f44a4a"},
 "encoding":{"x":{"datum":172.1,"type":"quantitative","scale":{"domain":[-0.3125,228.4375],"nice":false,"zero":false}},"y":{"datum":4320.5,"type":"quantitative","scale":{"domain":[4190.63,4427.81],"nice":false,"zero":false},"axis":null}}},
{"data":{"values":[{}]},"mark":{"type":"point","shape":"M0,-1C0.1114,-1,0.2018,-0.5523,0.2018,0C0.2018,0.5523,0.1114,1,0,1C-0.1114,1,-0.2018,0.5523,-0.2018,0C-0.2018,-0.5523,-0.1114,-1,0,-1Z","size":207936,"filled":false,"stroke":"#8fd400","strokeWidth":6,"opacity":1},
 "encoding":{"x":{"datum":163.54,"type":"quantitative","scale":{"domain":[-0.3125,228.4375],"nice":false,"zero":false}},"y":{"datum":4281.01,"type":"quantitative","scale":{"domain":[4190.63,4427.81],"nice":false,"zero":false},"axis":null}}}
]}
],
"resolve":{"scale":{"y":"independent"}}
}
